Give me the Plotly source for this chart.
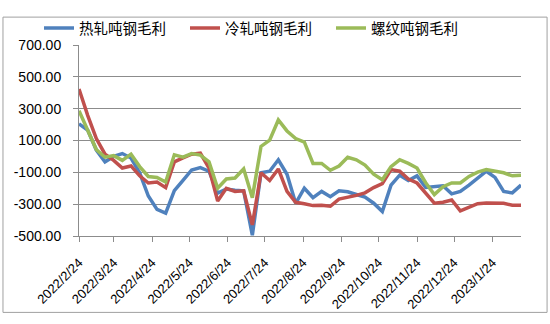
import pandas as pd
import plotly.graph_objects as go

dates = pd.date_range("2022-02-24", periods=52, freq="7D")

hot_rolled = [205, 165, 40, -34, 0, 18, -10, -103, -249, -333, -356, -215, -150, -85,
              -70, -93, -230, -205, -212, -216, -495, -103, -93, -21, -112, -295,
              -200, -259, -220, -253, -216, -222, -239, -255, -294, -346, -181, -118,
              -151, -122, -195, -190, -184, -235, -220, -180, -138, -93, -132, -220,
              -229, -180]
cold_rolled = [424, 258, 112, 14, -25, -73, -60, -122, -167, -161, -196, -34, -9, 14,
               20, -73, -280, -200, -220, -216, -430, -103, -151, -79, -220, -288,
               -297, -309, -307, -313, -268, -259, -245, -229, -196, -171, -83, -93,
               -142, -167, -230, -294, -288, -274, -342, -321, -297, -292, -292, -294,
               -307, -307]
rebar = [287, 160, 43, -5, 5, -25, 14, -64, -126, -132, -161, 10, -5, 18,
         8, -34, -200, -142, -136, -79, -259, 63, 102, 229, 160, 112,
         90, -44, -44, -87, -60, -5, -21, -54, -112, -147, -64, -21, -44, -73,
         -165, -240, -190, -167, -167, -126, -99, -83, -93, -103, -122, -118]

series_names = ["热轧吨钢毛利", "冷轧吨钢毛利", "螺纹吨钢毛利"]
series_colors = ["#4F81BD", "#C0504D", "#9BBB59"]

x_tick_vals = ["2022-02-24", "2022-03-24", "2022-04-24", "2022-05-24", "2022-06-24",
               "2022-07-24", "2022-08-24", "2022-09-24", "2022-10-24", "2022-11-24",
               "2022-12-24", "2023-01-24"]
x_tick_text = ["2022/2/24", "2022/3/24", "2022/4/24", "2022/5/24", "2022/6/24",
               "2022/7/24", "2022/8/24", "2022/9/24", "2022/10/24", "2022/11/24",
               "2022/12/24", "2023/1/24"]
y_tick_vals = [-500, -300, -100, 100, 300, 500, 700]
y_tick_text = ["-500.00", "-300.00", "-100.00", "100.00", "300.00", "500.00", "700.00"]

fig = go.Figure()
for name, vals, col in zip(series_names, [hot_rolled, cold_rolled, rebar], series_colors):
    fig.add_trace(go.Scatter(x=dates, y=vals, name=name, mode="lines",
                             line=dict(color=col, width=3.5)))

grid = "#8c8c8c"
fig.update_layout(
    width=550, height=324,
    margin=dict(l=79, r=29, t=33, b=86),
    paper_bgcolor="white", plot_bgcolor="white",
    font=dict(family="Liberation Sans, Arial", size=14, color="black"),
    showlegend=True,
    legend=dict(orientation="h", x=-0.0905, xanchor="left", y=1.088, yanchor="middle",
                font=dict(family="Noto Sans CJK SC", size=14.5, color="black"),
                entrywidth=101, entrywidthmode="pixels", bgcolor="rgba(0,0,0,0)"),
    xaxis=dict(type="date", range=[dates[0], dates[-1]],
               tickvals=x_tick_vals, ticktext=x_tick_text, tickangle=-45,
               showgrid=False, showline=True, linecolor=grid, linewidth=1,
               ticks="outside", ticklen=5, tickcolor=grid, zeroline=False,
               ticklabelstandoff=8, tickfont=dict(size=13)),
    yaxis=dict(range=[-500, 700], tickvals=y_tick_vals, ticktext=y_tick_text,
               showgrid=True, gridcolor=grid, gridwidth=1,
               showline=True, linecolor=grid, linewidth=1,
               ticks="outside", ticklen=5, tickcolor=grid, zeroline=False,
               ticklabelstandoff=9, tickfont=dict(size=14)),
    shapes=[dict(type="rect", xref="paper", yref="paper",
                 x0=-0.172, x1=1.059, y0=-0.4, y1=1.146,
                 line=dict(color="#a0a0a0", width=1), fillcolor="rgba(0,0,0,0)",
                 layer="below")],
)

fig.write_html("out.html")
